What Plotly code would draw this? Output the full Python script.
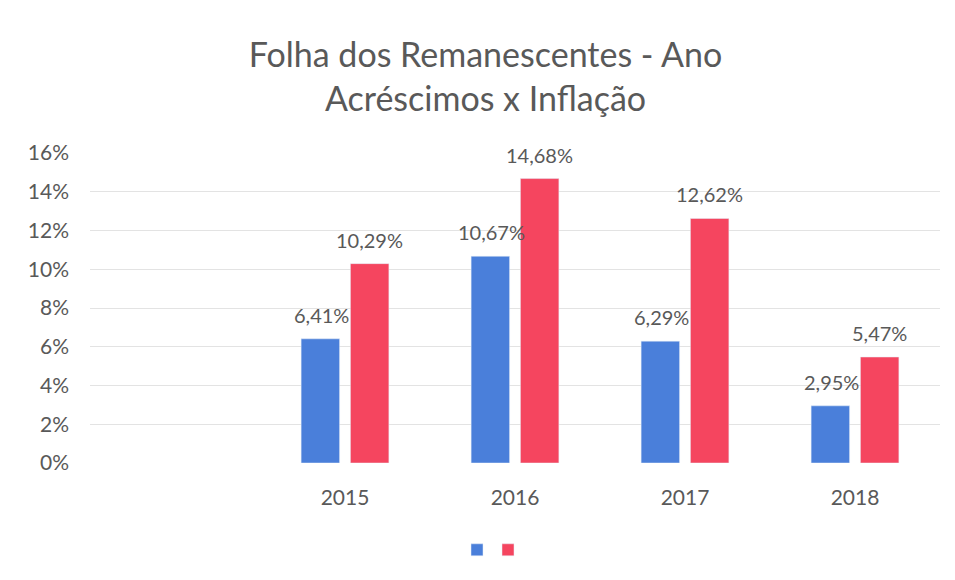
import plotly.graph_objects as go

categories = ["2015", "2016", "2017", "2018"]
acrescimos = [6.41, 10.67, 6.29, 2.95]
inflacao = [10.29, 14.68, 12.62, 5.47]
y_ticks = [0, 2, 4, 6, 8, 10, 12, 14, 16]
y_tick_labels = [f"{v}%" for v in y_ticks]

def fmt(v):
    return f"{v:.2f}%".replace(".", ",")

FONT = "Lato"
GRAY = "#595959"
BLUE = "#4A7FDA"
RED = "#F5455F"

fig = go.Figure()
fig.add_trace(go.Bar(
    x=categories, y=acrescimos, name=" ", legend="legend",
    marker=dict(color=BLUE),
))
fig.add_trace(go.Bar(
    x=categories, y=inflacao, name=" ", legend="legend2",
    marker=dict(color=RED),
))

# data labels (category index positions on the category axis)
for series, shift in ((acrescimos, -24), (inflacao, 24)):
    for i, v in enumerate(series):
        fig.add_annotation(x=i, y=v, xref="x", yref="y", text=fmt(v),
                           showarrow=False, xanchor="center", yanchor="bottom",
                           xshift=shift, yshift=10,
                           font=dict(size=20, color=GRAY, family=FONT))

leg_common = dict(orientation="h", yanchor="middle", xanchor="left",
                  y=-0.28, font=dict(size=10), itemwidth=30,
                  bgcolor="rgba(0,0,0,0)")

fig.update_layout(
    width=955, height=580,
    paper_bgcolor="white", plot_bgcolor="white",
    font=dict(family=FONT, color=GRAY),
    title=dict(text="Folha dos Remanescentes - Ano<br>Acréscimos x Inflação",
               x=0.5, xanchor="center", y=0.898, yanchor="middle",
               yref="container",
               font=dict(size=34, color=GRAY, family=FONT)),
    margin=dict(l=82, r=23, t=145, b=125, autoexpand=False),
    barmode="group", bargap=0.42, bargroupgap=0.22,
    showlegend=True,
    legend=dict(x=(449 - 82) / 850, **leg_common),
    legend2=dict(x=(480 - 82) / 850, **leg_common),
    xaxis=dict(type="category", range=[-1.5, 3.5], showgrid=False, showline=False,
               zeroline=False, ticks="", ticklabelstandoff=20, automargin=False,
               tickfont=dict(size=21, color=GRAY, family=FONT)),
    yaxis=dict(range=[0, 16], tickvals=y_ticks, ticktext=y_tick_labels,
               showgrid=True, gridcolor="#E3E3E3", gridwidth=1, automargin=False,
               zeroline=False, showline=False, ticklabelstandoff=20,
               tickfont=dict(size=21, color=GRAY, family=FONT)),
)

fig.write_html("out.html")
